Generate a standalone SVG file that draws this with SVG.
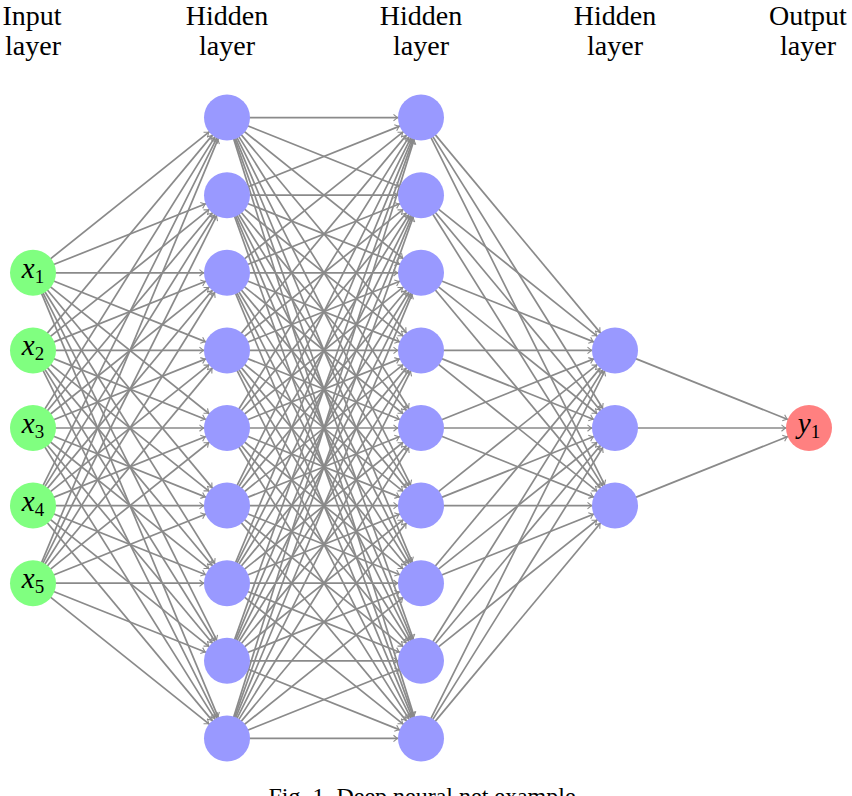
<svg xmlns="http://www.w3.org/2000/svg" width="852" height="796" viewBox="0 0 852 796">
<style>
.e{fill:none;stroke:#8a8a8a;stroke-width:1.7;marker-end:url(#ah)}
.in{fill:#80ff80}
.hid{fill:#9999ff}
.out{fill:#ff8080}
.hdr{font-size:28px;fill:#000;text-anchor:middle}
.lbl{font-size:29px;fill:#000;text-anchor:middle}
.v{font-style:italic}
.s{font-size:19px}
.cap{font-size:24px;fill:#000;text-anchor:middle}
</style>
<defs>
<marker id="ah" markerUnits="userSpaceOnUse" markerWidth="10" markerHeight="10" refX="23.5" refY="0" orient="auto" overflow="visible">
<path d="M-4,-3.2 Q-1.2,-0.9 0,0 Q-1.2,0.9 -4,3.2" fill="none" stroke="#8a8a8a" stroke-width="1.1"/>
</marker>
</defs>
<rect width="852" height="796" fill="#fff"/>
<g id="connectors">
<path class="e" d="M33 272.8L227 117.6"/><path class="e" d="M33 272.8L227 195.2"/><path class="e" d="M33 272.8L227 272.8"/><path class="e" d="M33 272.8L227 350.4"/><path class="e" d="M33 272.8L227 428"/><path class="e" d="M33 272.8L227 505.6"/><path class="e" d="M33 272.8L227 583.2"/><path class="e" d="M33 272.8L227 660.8"/><path class="e" d="M33 272.8L227 738.4"/>
<path class="e" d="M33 350.4L227 117.6"/><path class="e" d="M33 350.4L227 195.2"/><path class="e" d="M33 350.4L227 272.8"/><path class="e" d="M33 350.4L227 350.4"/><path class="e" d="M33 350.4L227 428"/><path class="e" d="M33 350.4L227 505.6"/><path class="e" d="M33 350.4L227 583.2"/><path class="e" d="M33 350.4L227 660.8"/><path class="e" d="M33 350.4L227 738.4"/>
<path class="e" d="M33 428L227 117.6"/><path class="e" d="M33 428L227 195.2"/><path class="e" d="M33 428L227 272.8"/><path class="e" d="M33 428L227 350.4"/><path class="e" d="M33 428L227 428"/><path class="e" d="M33 428L227 505.6"/><path class="e" d="M33 428L227 583.2"/><path class="e" d="M33 428L227 660.8"/><path class="e" d="M33 428L227 738.4"/>
<path class="e" d="M33 505.6L227 117.6"/><path class="e" d="M33 505.6L227 195.2"/><path class="e" d="M33 505.6L227 272.8"/><path class="e" d="M33 505.6L227 350.4"/><path class="e" d="M33 505.6L227 428"/><path class="e" d="M33 505.6L227 505.6"/><path class="e" d="M33 505.6L227 583.2"/><path class="e" d="M33 505.6L227 660.8"/><path class="e" d="M33 505.6L227 738.4"/>
<path class="e" d="M33 583.2L227 117.6"/><path class="e" d="M33 583.2L227 195.2"/><path class="e" d="M33 583.2L227 272.8"/><path class="e" d="M33 583.2L227 350.4"/><path class="e" d="M33 583.2L227 428"/><path class="e" d="M33 583.2L227 505.6"/><path class="e" d="M33 583.2L227 583.2"/><path class="e" d="M33 583.2L227 660.8"/><path class="e" d="M33 583.2L227 738.4"/>

<path class="e" d="M227 117.6L421 117.6"/><path class="e" d="M227 117.6L421 195.2"/><path class="e" d="M227 117.6L421 272.8"/><path class="e" d="M227 117.6L421 350.4"/><path class="e" d="M227 117.6L421 428"/><path class="e" d="M227 117.6L421 505.6"/><path class="e" d="M227 117.6L421 583.2"/><path class="e" d="M227 117.6L421 660.8"/><path class="e" d="M227 117.6L421 738.4"/>
<path class="e" d="M227 195.2L421 117.6"/><path class="e" d="M227 195.2L421 195.2"/><path class="e" d="M227 195.2L421 272.8"/><path class="e" d="M227 195.2L421 350.4"/><path class="e" d="M227 195.2L421 428"/><path class="e" d="M227 195.2L421 505.6"/><path class="e" d="M227 195.2L421 583.2"/><path class="e" d="M227 195.2L421 660.8"/><path class="e" d="M227 195.2L421 738.4"/>
<path class="e" d="M227 272.8L421 117.6"/><path class="e" d="M227 272.8L421 195.2"/><path class="e" d="M227 272.8L421 272.8"/><path class="e" d="M227 272.8L421 350.4"/><path class="e" d="M227 272.8L421 428"/><path class="e" d="M227 272.8L421 505.6"/><path class="e" d="M227 272.8L421 583.2"/><path class="e" d="M227 272.8L421 660.8"/><path class="e" d="M227 272.8L421 738.4"/>
<path class="e" d="M227 350.4L421 117.6"/><path class="e" d="M227 350.4L421 195.2"/><path class="e" d="M227 350.4L421 272.8"/><path class="e" d="M227 350.4L421 350.4"/><path class="e" d="M227 350.4L421 428"/><path class="e" d="M227 350.4L421 505.6"/><path class="e" d="M227 350.4L421 583.2"/><path class="e" d="M227 350.4L421 660.8"/><path class="e" d="M227 350.4L421 738.4"/>
<path class="e" d="M227 428L421 117.6"/><path class="e" d="M227 428L421 195.2"/><path class="e" d="M227 428L421 272.8"/><path class="e" d="M227 428L421 350.4"/><path class="e" d="M227 428L421 428"/><path class="e" d="M227 428L421 505.6"/><path class="e" d="M227 428L421 583.2"/><path class="e" d="M227 428L421 660.8"/><path class="e" d="M227 428L421 738.4"/>
<path class="e" d="M227 505.6L421 117.6"/><path class="e" d="M227 505.6L421 195.2"/><path class="e" d="M227 505.6L421 272.8"/><path class="e" d="M227 505.6L421 350.4"/><path class="e" d="M227 505.6L421 428"/><path class="e" d="M227 505.6L421 505.6"/><path class="e" d="M227 505.6L421 583.2"/><path class="e" d="M227 505.6L421 660.8"/><path class="e" d="M227 505.6L421 738.4"/>
<path class="e" d="M227 583.2L421 117.6"/><path class="e" d="M227 583.2L421 195.2"/><path class="e" d="M227 583.2L421 272.8"/><path class="e" d="M227 583.2L421 350.4"/><path class="e" d="M227 583.2L421 428"/><path class="e" d="M227 583.2L421 505.6"/><path class="e" d="M227 583.2L421 583.2"/><path class="e" d="M227 583.2L421 660.8"/><path class="e" d="M227 583.2L421 738.4"/>
<path class="e" d="M227 660.8L421 117.6"/><path class="e" d="M227 660.8L421 195.2"/><path class="e" d="M227 660.8L421 272.8"/><path class="e" d="M227 660.8L421 350.4"/><path class="e" d="M227 660.8L421 428"/><path class="e" d="M227 660.8L421 505.6"/><path class="e" d="M227 660.8L421 583.2"/><path class="e" d="M227 660.8L421 660.8"/><path class="e" d="M227 660.8L421 738.4"/>
<path class="e" d="M227 738.4L421 117.6"/><path class="e" d="M227 738.4L421 195.2"/><path class="e" d="M227 738.4L421 272.8"/><path class="e" d="M227 738.4L421 350.4"/><path class="e" d="M227 738.4L421 428"/><path class="e" d="M227 738.4L421 505.6"/><path class="e" d="M227 738.4L421 583.2"/><path class="e" d="M227 738.4L421 660.8"/><path class="e" d="M227 738.4L421 738.4"/>

<path class="e" d="M421 117.6L615 350.4"/><path class="e" d="M421 117.6L615 428"/><path class="e" d="M421 117.6L615 505.6"/>
<path class="e" d="M421 195.2L615 350.4"/><path class="e" d="M421 195.2L615 428"/><path class="e" d="M421 195.2L615 505.6"/>
<path class="e" d="M421 272.8L615 350.4"/><path class="e" d="M421 272.8L615 428"/><path class="e" d="M421 272.8L615 505.6"/>
<path class="e" d="M421 350.4L615 350.4"/><path class="e" d="M421 350.4L615 428"/><path class="e" d="M421 350.4L615 505.6"/>
<path class="e" d="M421 428L615 350.4"/><path class="e" d="M421 428L615 428"/><path class="e" d="M421 428L615 505.6"/>
<path class="e" d="M421 505.6L615 350.4"/><path class="e" d="M421 505.6L615 428"/><path class="e" d="M421 505.6L615 505.6"/>
<path class="e" d="M421 583.2L615 350.4"/><path class="e" d="M421 583.2L615 428"/><path class="e" d="M421 583.2L615 505.6"/>
<path class="e" d="M421 660.8L615 350.4"/><path class="e" d="M421 660.8L615 428"/><path class="e" d="M421 660.8L615 505.6"/>
<path class="e" d="M421 738.4L615 350.4"/><path class="e" d="M421 738.4L615 428"/><path class="e" d="M421 738.4L615 505.6"/>

<path class="e" d="M615 350.4L809 428"/><path class="e" d="M615 428L809 428"/><path class="e" d="M615 505.6L809 428"/>
</g>
<g id="headers" font-family="'Liberation Serif', 'DejaVu Serif', serif">
<text class="hdr" x="32" y="25">Input</text><text class="hdr" x="33" y="55">layer</text>
<text class="hdr" x="227" y="25">Hidden</text><text class="hdr" x="227" y="55">layer</text>
<text class="hdr" x="421" y="25">Hidden</text><text class="hdr" x="421" y="55">layer</text>
<text class="hdr" x="615" y="25">Hidden</text><text class="hdr" x="615" y="55">layer</text>
<text class="hdr" x="808" y="25">Output</text><text class="hdr" x="808" y="55">layer</text>
</g>
<g font-family="'Liberation Serif', 'DejaVu Serif', serif">
<g id="input-1"><circle class="in" cx="33" cy="272.8" r="23"/><text class="lbl" x="33" y="277.8"><tspan class="v">x</tspan><tspan class="s" dy="5">1</tspan></text></g>
<g id="input-2"><circle class="in" cx="33" cy="350.4" r="23"/><text class="lbl" x="33" y="355.4"><tspan class="v">x</tspan><tspan class="s" dy="5">2</tspan></text></g>
<g id="input-3"><circle class="in" cx="33" cy="428" r="23"/><text class="lbl" x="33" y="433"><tspan class="v">x</tspan><tspan class="s" dy="5">3</tspan></text></g>
<g id="input-4"><circle class="in" cx="33" cy="505.6" r="23"/><text class="lbl" x="33" y="510.6"><tspan class="v">x</tspan><tspan class="s" dy="5">4</tspan></text></g>
<g id="input-5"><circle class="in" cx="33" cy="583.2" r="23"/><text class="lbl" x="33" y="588.2"><tspan class="v">x</tspan><tspan class="s" dy="5">5</tspan></text></g>
<g id="h1-1"><circle class="hid" cx="227" cy="117.6" r="23"/></g>
<g id="h1-2"><circle class="hid" cx="227" cy="195.2" r="23"/></g>
<g id="h1-3"><circle class="hid" cx="227" cy="272.8" r="23"/></g>
<g id="h1-4"><circle class="hid" cx="227" cy="350.4" r="23"/></g>
<g id="h1-5"><circle class="hid" cx="227" cy="428" r="23"/></g>
<g id="h1-6"><circle class="hid" cx="227" cy="505.6" r="23"/></g>
<g id="h1-7"><circle class="hid" cx="227" cy="583.2" r="23"/></g>
<g id="h1-8"><circle class="hid" cx="227" cy="660.8" r="23"/></g>
<g id="h1-9"><circle class="hid" cx="227" cy="738.4" r="23"/></g>
<g id="h2-1"><circle class="hid" cx="421" cy="117.6" r="23"/></g>
<g id="h2-2"><circle class="hid" cx="421" cy="195.2" r="23"/></g>
<g id="h2-3"><circle class="hid" cx="421" cy="272.8" r="23"/></g>
<g id="h2-4"><circle class="hid" cx="421" cy="350.4" r="23"/></g>
<g id="h2-5"><circle class="hid" cx="421" cy="428" r="23"/></g>
<g id="h2-6"><circle class="hid" cx="421" cy="505.6" r="23"/></g>
<g id="h2-7"><circle class="hid" cx="421" cy="583.2" r="23"/></g>
<g id="h2-8"><circle class="hid" cx="421" cy="660.8" r="23"/></g>
<g id="h2-9"><circle class="hid" cx="421" cy="738.4" r="23"/></g>
<g id="h3-1"><circle class="hid" cx="615" cy="350.4" r="23"/></g>
<g id="h3-2"><circle class="hid" cx="615" cy="428" r="23"/></g>
<g id="h3-3"><circle class="hid" cx="615" cy="505.6" r="23"/></g>
<g id="output-1"><circle class="out" cx="809" cy="428" r="23"/><text class="lbl" x="809" y="433"><tspan class="v">y</tspan><tspan class="s" dy="5">1</tspan></text></g>
<text class="cap" x="422" y="804">Fig. 1. Deep neural net example</text>
</g>
</svg>
